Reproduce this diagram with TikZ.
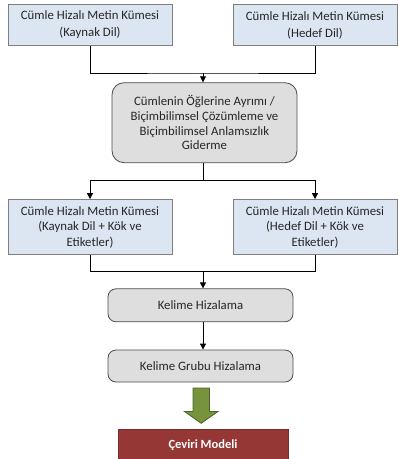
\documentclass[tikz,border=0pt]{standalone}
\usepackage{fontspec}
\setmainfont{Carlito}
\usetikzlibrary{arrows.meta}
\definecolor{bluefill}{HTML}{DCE6F2}
\definecolor{grayfill}{HTML}{DEDEDE}
\definecolor{boxline}{HTML}{7F7F7F}
\definecolor{redfill}{HTML}{953735}
\definecolor{greenfill}{HTML}{77933C}
\definecolor{greenline}{HTML}{4F6228}
\definecolor{textcol}{HTML}{262626}
\begin{document}
\begin{tikzpicture}[x=1pt,y=-1pt,
  every node/.style={font=\fontsize{12.8}{17}\selectfont, text=textcol, align=center, inner sep=0pt},
  bluebox/.style={draw=boxline, fill=bluefill, line width=0.8pt, minimum width=164pt},
  graybox/.style={draw=black!70, fill=grayfill, line width=0.8pt, rounded corners=8pt, minimum width=185pt},
  link/.style={line width=0.8pt, draw=black},
  arr/.style={link, -{Triangle[length=6pt,width=6pt]}}]
\useasboundingbox (0,0) rectangle (399,459);
\clip (0,0) rectangle (399,459);

% source / target corpora
\node[bluebox, minimum height=41pt] (src) at (90,25) {Cümle Hizalı Metin Kümesi\\(Kaynak Dil)};
\node[bluebox, minimum height=41pt] (tgt) at (315,25) {Cümle Hizalı Metin Kümesi\\(Hedef Dil)};

% morphological processing
\node[graybox, rounded corners=12pt, minimum height=80pt, font=\fontsize{12.8}{14.8}\selectfont] (morph) at (204.5,122.7)
  {Cümlenin Öğlerine Ayrımı /\\Biçimbilimsel Çözümleme ve\\Biçimbilimsel Anlamsızlık\\Giderme};

% corpora with roots and tags
\node[bluebox, minimum height=55pt, font=\fontsize{12.8}{15.5}\selectfont] (srct) at (90,227) {Cümle Hizalı Metin Kümesi\\(Kaynak Dil + Kök ve\\Etiketler)};
\node[bluebox, minimum height=55pt, font=\fontsize{12.8}{15.5}\selectfont] (tgtt) at (315,227) {Cümle Hizalı Metin Kümesi\\(Hedef Dil + Kök ve\\Etiketler)};

% alignment steps
\node[graybox, minimum height=33pt] (word) at (200.5,305.3) {Kelime Hizalama};
\node[graybox, minimum height=32pt] (phrase) at (200.5,366) {Kelime Grubu Hizalama};

% output model
\node[draw=redfill!80!black, fill=redfill, minimum width=170pt, minimum height=40pt] (model) at (203,449.5) {};
\node[text=white, font=\fontsize{12.5}{14}\selectfont\bfseries] (modeltxt) at (203,445) {Çeviri Modeli};

% merging connectors
\coordinate (j1) at (203,73);
\draw[link] (src.south) |- (j1) -| (tgt.south);
\draw[arr] (j1) -- (morph.north -| j1);

\coordinate (s2) at (203,180.5);
\draw[link] (morph.south -| s2) -- (s2);
\draw[arr] (s2) -| (srct.north);
\draw[arr] (s2) -| (tgtt.north);

\coordinate (j2) at (203,271.5);
\draw[link] (srct.south) |- (j2) -| (tgtt.south);
\draw[arr] (j2) -- (word.north -| j2);
\draw[arr] (word.south -| j2) -- (phrase.north -| j2);

% block arrow towards the model
\draw[draw=greenline, fill=greenfill, line width=0.8pt, line join=miter]
  (193,388) -- (209.5,388) -- (209.5,411.5) -- (218,411.5) -- (201.2,423.3)
  -- (184.5,411.5) -- (193,411.5) -- cycle;
\end{tikzpicture}
\end{document}
